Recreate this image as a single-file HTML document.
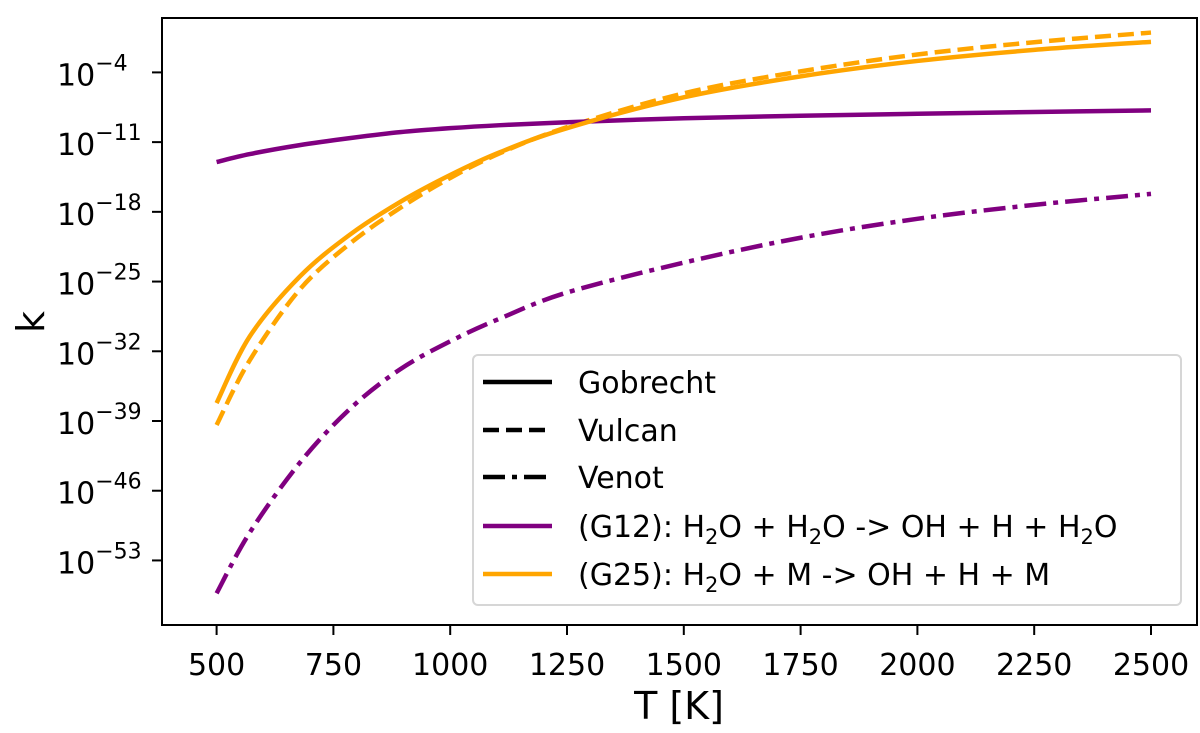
<!DOCTYPE html>
<html><head><meta charset="utf-8"><style>
body{margin:0;background:#fff;}
svg text{font-family:"DejaVu Sans","Liberation Sans",sans-serif;fill:#000;}
</style></head><body>
<svg id="chart" width="1200" height="728" viewBox="0 0 1200 728">
<g id="plot"></g>
</svg>
<script>
const temps = [500,571,678,785,893,1000,1107,1250,1500,1750,2000,2250,2500];
const g12Gobrecht = [-13.0,-12.2,-11.3,-10.6,-10.0,-9.6,-9.3,-9.0,-8.6,-8.35,-8.15,-7.97,-7.81];
const g12Venot = [-56.3,-50.2,-43.2,-37.8,-33.8,-31.0,-28.7,-26.1,-23.1,-20.6,-18.7,-17.3,-16.2];
const g25Gobrecht = [-37.2,-30.5,-24.5,-20.3,-17.0,-14.3,-12.0,-9.6,-6.5,-4.4,-2.85,-1.74,-0.93];
const g25Vulcan = [-39.4,-32.9,-25.8,-21.2,-17.6,-14.6,-12.1,-9.5,-6.1,-3.9,-2.2,-0.97,0.0];
const xTicks = [500,750,1000,1250,1500,1750,2000,2250,2500];
const yTicks = [-4,-11,-18,-25,-32,-39,-46,-53];

const NS='http://www.w3.org/2000/svg';
const L=162,R=1197,T=18,B=625;
const xs=t=>216.6+(t-500)*(1151-216.6)/2000;
const ys=v=>72.4+(-4-v)*9.96;
const plot=document.getElementById('plot');
function mk(tag,attrs,parent){const e=document.createElementNS(NS,tag);for(const k in attrs)e.setAttribute(k,attrs[k]);(parent||plot).appendChild(e);return e;}

function smoothPath(xv,yv){
  const p=xv.map((t,i)=>[xs(t),ys(yv[i])]);
  let d='M'+p[0][0]+','+p[0][1];
  for(let i=0;i<p.length-1;i++){
    const p0=p[Math.max(0,i-1)],p1=p[i],p2=p[i+1],p3=p[Math.min(p.length-1,i+2)];
    const c1=[p1[0]+(p2[0]-p0[0])/6,p1[1]+(p2[1]-p0[1])/6];
    const c2=[p2[0]-(p3[0]-p1[0])/6,p2[1]-(p3[1]-p1[1])/6];
    d+=' C'+c1+' '+c2+' '+p2;
  }
  return d;
}
const series=[
 {v:g12Venot,c:'#800080',dash:'22,7,5,7',n:'g12-venot-line'},
 {v:g25Vulcan,c:'#ffa500',dash:'16,7',n:'g25-vulcan-line'},
 {v:g12Gobrecht,c:'#800080',dash:'',n:'g12-gobrecht-line'},
 {v:g25Gobrecht,c:'#ffa500',dash:'',n:'g25-gobrecht-line'}
];
series.forEach(s=>{
  const e=mk('path',{d:smoothPath(temps,s.v),fill:'none',stroke:s.c,'stroke-width':4.5,'stroke-dasharray':s.dash});
  
  
});
const frame=mk('rect',{x:L,y:T,width:R-L,height:B-T,fill:'none',stroke:'#000','stroke-width':2});


xTicks.forEach(t=>{
  const x=xs(t);
  mk('line',{x1:x,x2:x,y1:B,y2:B+10,stroke:'#000','stroke-width':2});
  const tx=mk('text',{x:x,y:B+50,'text-anchor':'middle','font-size':30});
  tx.textContent=t;
  
  
});
yTicks.forEach(v=>{
  const y=ys(v);
  mk('line',{x1:L-10,x2:L,y1:y,y2:y,stroke:'#000','stroke-width':2});
  const tx=mk('text',{x:57,y:y+13,'font-size':30});
  tx.innerHTML='10<tspan dy="-15" font-size="22">\u2212'+Math.abs(v)+'</tspan>';
  
  
});
</script>
<script>
const svg=document.getElementById('chart');
function add(html){svg.insertAdjacentHTML('beforeend',html);}
add('<text x="679" y="719" text-anchor="middle" font-size="38">T [K]</text>');
add('<text x="44" y="322" text-anchor="middle" font-size="38" transform="rotate(-90 44 322)">k</text>');
add('<g>'+
'<rect x="473" y="355" width="708" height="250" rx="5" fill="#fff" fill-opacity="0.85" stroke="#d6d6d6" stroke-width="2"/>'+
'<line x1="483" x2="552" y1="382" y2="382" stroke="#000" stroke-width="4.5"/>'+
'<text x="578" y="393" font-size="30">Gobrecht</text>'+
'<line x1="483" x2="552" y1="430" y2="430" stroke="#000" stroke-width="4.5" stroke-dasharray="16,7"/>'+
'<text x="578" y="441" font-size="30">Vulcan</text>'+
'<line x1="483" x2="552" y1="477" y2="477" stroke="#000" stroke-width="4.5" stroke-dasharray="22,7,5,7"/>'+
'<text x="578" y="488" font-size="30">Venot</text>'+
'<line x1="483" x2="552" y1="526" y2="526" stroke="#800080" stroke-width="4.5"/>'+
'<text x="578" y="537" font-size="30">(G12): H<tspan dy="7" font-size="21">2</tspan><tspan dy="-7">O + H</tspan><tspan dy="7" font-size="21">2</tspan><tspan dy="-7">O -&gt; OH + H + H</tspan><tspan dy="7" font-size="21">2</tspan><tspan dy="-7">O</tspan></text>'+
'<line x1="483" x2="552" y1="574" y2="574" stroke="#ffa500" stroke-width="4.5"/>'+
'<text x="578" y="585" font-size="30">(G25): H<tspan dy="7" font-size="21">2</tspan><tspan dy="-7">O + M -&gt; OH + H + M</tspan></text>'+
'</g>');
</script>
</body></html>
